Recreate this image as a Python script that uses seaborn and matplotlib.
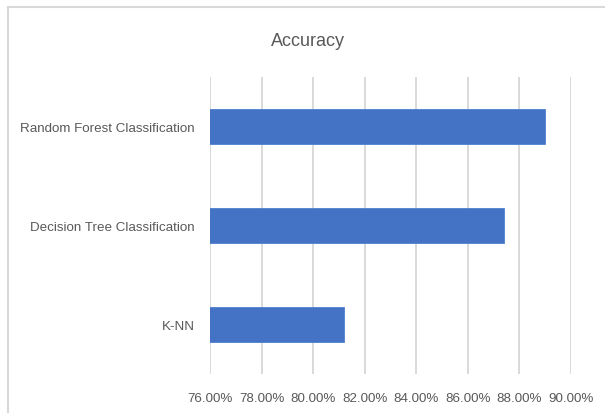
import matplotlib
matplotlib.use("Agg")
import matplotlib.pyplot as plt
import seaborn as sns
import pandas as pd
from matplotlib.lines import Line2D
from matplotlib.ticker import FuncFormatter

categories = ["Random Forest Classification", "Decision Tree Classification", "K-NN"]
accuracy = [89.0, 87.4, 81.2]
x_ticks = [76, 78, 80, 82, 84, 86, 88, 90]

sns.set_theme(style="white")
plt.rcParams["font.family"] = ["Liberation Sans", "DejaVu Sans"]

df = pd.DataFrame({"model": categories, "acc": accuracy})

W, H = 605, 414
fig = plt.figure(figsize=(W / 100, H / 100), dpi=100)
fig.patch.set_facecolor("white")
ax = fig.add_axes([210 / W, 1 - 375 / H, (571 - 210) / W, (375 - 78) / H])

sns.barplot(data=df, y="model", x="acc", orient="h", color="#4472C4",
            width=0.35, saturation=1, ax=ax, edgecolor="#4F7FD0", linewidth=0.6,
            zorder=3)

ax.set_xlim(76, 90)
ax.set_ylim(2.5, -0.5)
ax.set_xticks(x_ticks)
ax.xaxis.set_major_formatter(FuncFormatter(lambda v, p: f"{v:.2f}%"))
ax.grid(axis="x", color="#D9D9D9", linewidth=1.4, zorder=0)
ax.grid(axis="y", visible=False)
for s in ax.spines.values():
    s.set_visible(False)
ax.set_xlabel("")
ax.set_ylabel("")
ax.tick_params(axis="x", length=0, pad=13, labelsize=9.6, labelcolor="#595959")
ax.tick_params(axis="y", length=0, pad=11, labelsize=9.6, labelcolor="#595959")

fig.text(308 / W, 1 - 41 / H, "Accuracy", ha="center", va="center",
         fontsize=13, color="#595959")

# chart frame (partially cropped)
fig.add_artist(Line2D([8 / W, 8 / W], [0, 1 - 8 / H], transform=fig.transFigure,
                      color="#D9D9D9", linewidth=1.5))
fig.add_artist(Line2D([8 / W, 1], [1 - 8 / H, 1 - 8 / H], transform=fig.transFigure,
                      color="#D9D9D9", linewidth=1.5))

fig.savefig("out.png", dpi=100, facecolor="white")
